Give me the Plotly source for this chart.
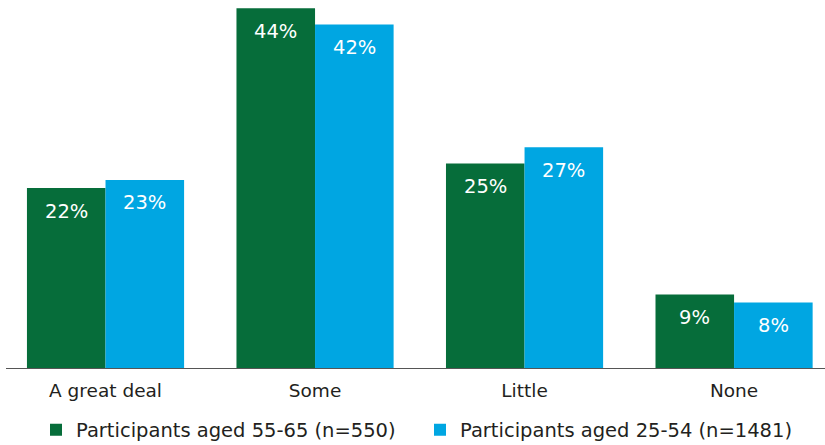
import plotly.graph_objects as go

categories = ["A great deal", "Some", "Little", "None"]
series_names = ["Participants aged 55-65 (n=550)", "Participants aged 25-54 (n=1481)"]
older_values = [22, 44, 25, 9]
younger_values = [23, 42, 27, 8]
series_values = [older_values, younger_values]
colors = ["#066D3A", "#00A6E2"]

FONT = "DejaVu Sans"
TEXT = "#231F20"

fig = go.Figure()
for name, vals, col in zip(series_names, series_values, colors):
    fig.add_trace(go.Bar(
        x=list(range(len(categories))), y=vals, name=name,
        marker=dict(color=col, line=dict(width=0)),
        hoverinfo="skip",
    ))

# value labels inside bars near the top
group_width = 0.75
n = len(series_values)
bw = group_width / n
for s, vals in enumerate(series_values):
    off = -group_width / 2 + bw * (s + 0.5)
    for i, v in enumerate(vals):
        fig.add_annotation(
            x=i + off, y=v, xref="x", yref="y", text=f"{v}%",
            showarrow=False, yshift=-23, yanchor="middle",
            font=dict(family=FONT, size=19.5, color="white"),
        )

W, H = 825, 445
ml, mr, mt, mb = 6, 0, 0, 77

fig.update_layout(
    width=W, height=H,
    margin=dict(l=ml, r=mr, t=mt, b=mb, pad=0, autoexpand=False),
    paper_bgcolor="white", plot_bgcolor="white",
    barmode="group", bargap=0.25, bargroupgap=0,
    font=dict(family=FONT, color=TEXT),
    xaxis=dict(
        range=[-0.475, 3.434], tickmode="array",
        tickvals=list(range(len(categories))), ticktext=categories,
        showgrid=False, zeroline=False, showline=True,
        linecolor="#555555", linewidth=1, ticks="",
        ticklabelstandoff=6, automargin=False,
        tickfont=dict(family=FONT, size=18.5, color=TEXT),
        fixedrange=True,
    ),
    yaxis=dict(range=[0, 45], visible=False, showgrid=False, zeroline=False,
               fixedrange=True, automargin=False),
    showlegend=True,
    legend=dict(
        orientation="h", xref="container", x=36 / W, xanchor="left",
        yref="container", y=1 - 430 / H, yanchor="middle",
        font=dict(family=FONT, size=19.5, color=TEXT),
        entrywidthmode="pixels", entrywidth=339,
        bgcolor="rgba(0,0,0,0)", borderwidth=0,
        traceorder="normal",
    ),
)

fig.write_html(
    "out.html",
    config={"displayModeBar": False},
    post_script="document.body.style.margin='0';document.body.style.padding='0';",
)
